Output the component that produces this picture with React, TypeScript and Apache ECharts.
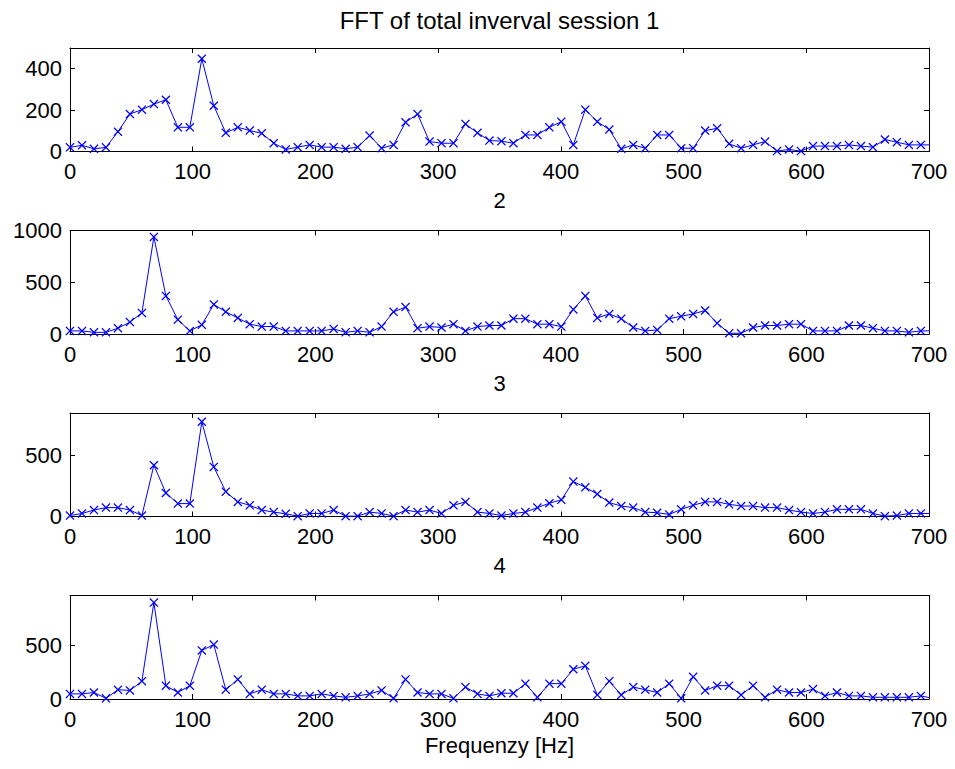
import React, { useEffect, useRef } from "react";
import * as echarts from "echarts";

const FREQ = [
  0, 9.77, 19.53, 29.3, 39.06, 48.83, 58.59, 68.36, 78.13, 87.89, 97.66, 107.42, 117.19,
  126.95, 136.72, 146.48, 156.25, 166.02, 175.78, 185.55, 195.31, 205.08, 214.84, 224.61,
  234.38, 244.14, 253.91, 263.67, 273.44, 283.2, 292.97, 302.73, 312.5, 322.27, 332.03,
  341.8, 351.56, 361.33, 371.09, 380.86, 390.63, 400.39, 410.16, 419.92, 429.69, 439.45,
  449.22, 458.98, 468.75, 478.52, 488.28, 498.05, 507.81, 517.58, 527.34, 537.11, 546.88,
  556.64, 566.41, 576.17, 585.94, 595.7, 605.47, 615.23, 625.0, 634.77, 644.53, 654.3,
  664.06, 673.83, 683.59, 693.36, 703.13,
];

const SESSION1 = [
  20, 30, 13, 20, 96, 181, 202, 229, 250, 117, 117, 448, 221, 90, 117, 101, 88, 40, 10, 21,
  32, 21, 21, 13, 21, 77, 16, 32, 141, 181, 48, 40, 40, 133, 90, 53, 50, 40, 80, 80, 117,
  144, 32, 202, 144, 106, 13, 32, 16, 80, 80, 16, 16, 101, 112, 37, 16, 32, 48, 2, 10, 2,
  26, 26, 26, 32, 26, 21, 58, 45, 32, 32, 32,
];

const SESSION2 = [
  30, 30, 16, 16, 56, 115, 204, 938, 368, 138, 30, 89, 286, 214, 155, 95, 72, 72, 30, 30,
  30, 30, 49, 16, 30, 16, 72, 214, 260, 56, 72, 63, 95, 30, 72, 82, 82, 148, 148, 95, 95,
  72, 237, 368, 155, 194, 148, 63, 30, 39, 148, 171, 194, 227, 105, 7, 7, 63, 82, 82, 95,
  95, 30, 30, 30, 82, 82, 56, 30, 30, 16, 30, 30,
];

const SESSION3 = [
  8, 25, 53, 73, 73, 53, 8, 421, 193, 106, 106, 778, 407, 204, 120, 92, 53, 36, 22, 3, 25,
  25, 53, 3, 3, 36, 25, 3, 53, 36, 53, 25, 92, 120, 36, 25, 8, 25, 36, 73, 109, 137, 287,
  240, 184, 114, 86, 73, 36, 31, 17, 59, 92, 120, 120, 100, 86, 86, 73, 73, 53, 36, 25, 36,
  59, 59, 59, 25, 3, 8, 25, 25, 25,
];

const SESSION4 = [
  48, 48, 61, 6, 87, 80, 167, 904, 125, 61, 125, 455, 510, 87, 183, 48, 87, 48, 48, 29, 29,
  48, 29, 16, 29, 48, 80, 6, 183, 61, 48, 48, 6, 112, 48, 29, 54, 54, 144, 16, 144, 144,
  279, 311, 38, 167, 38, 112, 87, 61, 144, 6, 208, 80, 125, 125, 38, 125, 16, 87, 61, 61,
  93, 29, 61, 29, 29, 16, 16, 16, 16, 29, 6,
];

const SERIES = [SESSION1, SESSION2, SESSION3, SESSION4];
const PANEL_TITLES = ["FFT of total inverval session 1", "2", "3", "4"];
const X_TICKS_STEP = 100;
const X_MIN = 0;
const X_MAX = 700;
const Y_MAX = [500, 1000, 850, 970];
const Y_STEP = [200, 500, 500, 500];
const X_LABEL = "Frequenzy [Hz]";

const FONT = "'Liberation Sans', Arial, Helvetica, sans-serif";
const FS = 22;

const GRID_TOPS = [48, 230.5, 413, 595.5];
const GRID_H = 103.5;
const GRID_LEFT = 70;
const GRID_RIGHT = 26;

const X_SYMBOL =
  "path://M0,1 L1,0 L5,4 L9,0 L10,1 L6,5 L10,9 L9,10 L5,6 L1,10 L0,9 L4,5 Z";

export default function App() {
  const ref = useRef<HTMLDivElement>(null);

  useEffect(() => {
    if (!ref.current) return;
    const chart = echarts.init(ref.current, undefined, { renderer: "svg" });

    const grids: any[] = [];
    const xAxes: any[] = [];
    const yAxes: any[] = [];
    const series: any[] = [];
    const graphics: any[] = [];

    const axisLine = { show: true, onZero: false, lineStyle: { color: "#000", width: 1 } };
    const tick = { show: true, inside: true, length: 5, lineStyle: { color: "#000", width: 1 } };

    SERIES.forEach((vals, g) => {
      grids.push({
        left: GRID_LEFT,
        right: GRID_RIGHT,
        top: GRID_TOPS[g],
        height: GRID_H,
        containLabel: false,
      });
      xAxes.push({
        type: "value",
        gridIndex: g,
        min: X_MIN,
        max: X_MAX,
        interval: X_TICKS_STEP,
        position: "bottom",
        axisLine,
        axisTick: tick,
        splitLine: { show: false },
        axisLabel: {
          show: true,
          color: "#000",
          fontFamily: FONT,
          fontSize: FS,
          margin: 9,
        },
      });
      xAxes.push({
        type: "value",
        gridIndex: g,
        min: X_MIN,
        max: X_MAX,
        interval: X_TICKS_STEP,
        position: "top",
        axisLine,
        axisTick: tick,
        splitLine: { show: false },
        axisLabel: { show: false },
      });
      yAxes.push({
        type: "value",
        gridIndex: g,
        min: 0,
        max: Y_MAX[g],
        interval: Y_STEP[g],
        position: "left",
        axisLine,
        axisTick: tick,
        splitLine: { show: false },
        axisLabel: {
          show: true,
          color: "#000",
          fontFamily: FONT,
          fontSize: FS,
          margin: 8,
          formatter: (v: number) => (v % Y_STEP[g] === 0 ? String(v) : ""),
        },
      });
      yAxes.push({
        type: "value",
        gridIndex: g,
        min: 0,
        max: Y_MAX[g],
        interval: Y_STEP[g],
        position: "right",
        axisLine,
        axisTick: tick,
        splitLine: { show: false },
        axisLabel: { show: false },
      });

      series.push({
        type: "line",
        xAxisIndex: 2 * g,
        yAxisIndex: 2 * g,
        data: FREQ.map((f, i) => [f, vals[i]]),
        symbol: X_SYMBOL,
        symbolSize: 9,
        showSymbol: true,
        showAllSymbol: true,
        clip: true,
        lineStyle: { color: "#0000ff", width: 1 },
        itemStyle: { color: "#0000ff" },
        emphasis: { disabled: true },
        silent: true,
      });

      graphics.push({
        type: "text",
        x: GRID_LEFT + (955 - GRID_LEFT - GRID_RIGHT) / 2,
        y: GRID_TOPS[g] - (g === 0 ? 28 : 30),
        style: {
          text: PANEL_TITLES[g],
          fill: "#000",
          font: `${g === 0 ? 24 : FS}px ${FONT}`,
          textAlign: "center",
          textVerticalAlign: "middle",
        },
      });
    });

    graphics.push({
      type: "text",
      x: GRID_LEFT + (955 - GRID_LEFT - GRID_RIGHT) / 2,
      y: 745,
      style: {
        text: X_LABEL,
        fill: "#000",
        font: `${FS}px ${FONT}`,
        textAlign: "center",
        textVerticalAlign: "middle",
      },
    });

    chart.setOption({
      animation: false,
      backgroundColor: "#fff",
      grid: grids,
      xAxis: xAxes,
      yAxis: yAxes,
      series,
      graphic: graphics,
    });

    return () => chart.dispose();
  }, []);

  return (
    <div
      ref={ref}
      style={{ position: "fixed", left: 0, top: 0, width: 955, height: 769 }}
    />
  );
}
